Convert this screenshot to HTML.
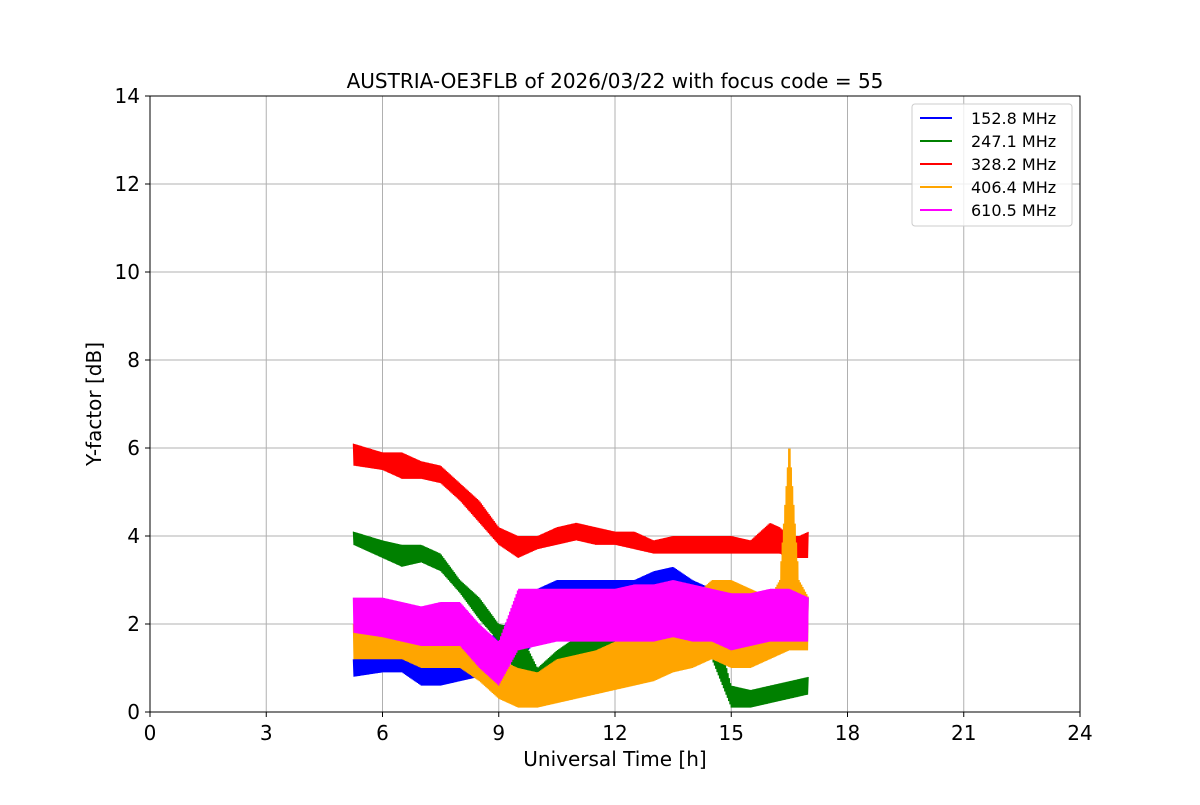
<!DOCTYPE html>
<html><head><meta charset="utf-8"><style>
body{margin:0;background:#fff;font-family:"Liberation Sans","DejaVu Sans",sans-serif}
</style></head><body>
<svg id="chart" width="1200" height="800" xmlns="http://www.w3.org/2000/svg" font-family="'DejaVu Sans','Liberation Sans',sans-serif">
<rect width="1200" height="800" fill="#fff"/>
<g id="grid"></g>
<g id="series"></g>
<rect x="150" y="96" width="930" height="616" fill="none" stroke="#000" stroke-width="1"/>
<g id="ticks"></g>
<text x="615" y="88" text-anchor="middle" font-size="20">AUSTRIA-OE3FLB of 2026/03/22 with focus code = 55</text>
<text x="615" y="766" text-anchor="middle" font-size="20">Universal Time [h]</text>
<text transform="translate(101,404) rotate(-90)" text-anchor="middle" font-size="20">Y-factor [dB]</text>
<g id="legend"></g>
</svg>
<script>
const times=[5.25,6,6.5,7,7.5,8,8.5,9,9.5,10,10.5,11,11.5,12,12.5,13,13.5,14,14.5,15,15.5,16,16.25,16.5,16.75,17];
const xTicks=[0,3,6,9,12,15,18,21,24];
const yTicks=[0,2,4,6,8,10,12,14];
const names=["152.8 MHz","247.1 MHz","328.2 MHz","406.4 MHz","610.5 MHz"];
const colors=["#0000ff","#008000","#ff0000","#ffa500","#ff00ff"];
const blueLo=[0.8,0.9,0.9,0.6,0.6,0.7,0.8,1.0,1.2,1.6,1.8,1.9,2.0,2.0,2.0,2.0,2.0,1.8,1.6,1.5,1.6,1.7,1.75,1.8,1.8,1.8];
const blueHi=[1.2,1.3,1.4,1.2,1.1,1.2,1.6,1.8,2.4,2.8,3.0,3.0,3.0,3.0,3.0,3.2,3.3,3.0,2.8,2.6,2.6,2.6,2.6,2.6,2.6,2.6];
const greenLo=[3.8,3.5,3.3,3.4,3.2,2.7,2.1,1.6,0.8,0.3,0.5,0.8,1.2,1.4,1.5,1.6,1.6,1.4,1.2,0.1,0.1,0.2,0.25,0.3,0.35,0.4];
const greenHi=[4.1,3.9,3.8,3.8,3.6,3.0,2.6,2.0,1.9,1.0,1.4,1.7,2.0,2.2,2.4,2.6,2.6,2.4,2.3,0.6,0.5,0.6,0.65,0.7,0.75,0.8];
const redLo=[5.6,5.5,5.3,5.3,5.2,4.8,4.3,3.8,3.5,3.7,3.8,3.9,3.8,3.8,3.7,3.6,3.6,3.6,3.6,3.6,3.6,3.6,3.6,3.5,3.5,3.5];
const redHi=[6.1,5.9,5.9,5.7,5.6,5.2,4.8,4.2,4.0,4.0,4.2,4.3,4.2,4.1,4.1,3.9,4.0,4.0,4.0,4.0,3.9,4.3,4.2,4.0,4.0,4.1];
const orangeLo=[1.2,1.2,1.2,1.0,1.0,1.0,0.7,0.3,0.1,0.1,0.2,0.3,0.4,0.5,0.6,0.7,0.9,1.0,1.2,1.0,1.0,1.2,1.3,1.4,1.4,1.4];
const orangeHi=[2.0,2.2,2.0,2.0,1.8,1.6,1.4,1.2,1.0,0.9,1.2,1.3,1.4,1.6,1.8,2.0,2.4,2.6,3.0,3.0,2.8,2.6,3.0,6.2,3.0,2.6];
const magentaLo=[1.8,1.7,1.6,1.5,1.5,1.5,1.0,0.6,1.4,1.5,1.6,1.6,1.6,1.6,1.6,1.6,1.7,1.6,1.6,1.4,1.5,1.6,1.6,1.6,1.6,1.6];
const magentaHi=[2.6,2.6,2.5,2.4,2.5,2.5,2.0,1.6,2.8,2.8,2.8,2.8,2.8,2.8,2.9,2.9,3.0,2.9,2.8,2.7,2.7,2.8,2.8,2.8,2.7,2.6];
const los=[blueLo,greenLo,redLo,orangeLo,magentaLo];
const his=[blueHi,greenHi,redHi,orangeHi,magentaHi];

const X=v=>150+v/24*930, Y=v=>712-v/14*616;
const NS="http://www.w3.org/2000/svg";
function mk(tag,parent){const e=document.createElementNS(NS,tag);parent.appendChild(e);return e;}
const grid=document.getElementById('grid'),ticks=document.getElementById('ticks');
xTicks.forEach(t=>{
 const l=mk('line',grid);l.setAttribute('x1',X(t));l.setAttribute('x2',X(t));l.setAttribute('y1',96);l.setAttribute('y2',712);l.setAttribute('stroke','#b0b0b0');
 
 
 const tk=mk('line',ticks);tk.setAttribute('x1',X(t));tk.setAttribute('x2',X(t));tk.setAttribute('y1',712);tk.setAttribute('y2',717);tk.setAttribute('stroke','#000');
 
 
 const tx=mk('text',ticks);tx.setAttribute('x',X(t));tx.setAttribute('y',740);tx.setAttribute('text-anchor','middle');tx.setAttribute('font-size','20');tx.textContent=t;
 
 
});
yTicks.forEach(t=>{
 const l=mk('line',grid);l.setAttribute('x1',150);l.setAttribute('x2',1080);l.setAttribute('y1',Y(t));l.setAttribute('y2',Y(t));l.setAttribute('stroke','#b0b0b0');
 
 
 const tk=mk('line',ticks);tk.setAttribute('x1',145);tk.setAttribute('x2',150);tk.setAttribute('y1',Y(t));tk.setAttribute('y2',Y(t));tk.setAttribute('stroke','#000');
 
 
 const tx=mk('text',ticks);tx.setAttribute('x',140);tx.setAttribute('y',Y(t)+7);tx.setAttribute('text-anchor','end');tx.setAttribute('font-size','20');tx.textContent=t;
 
 
});
const sg=document.getElementById('series');
names.forEach((n,k)=>{
 const lo=los[k],hi=his[k];let pts=[];let flip=0;
 for(let i=0;i<times.length-1;i++){
  const steps=Math.max(2,Math.round((times[i+1]-times[i])*60));
  for(let s=0;s<steps;s++){
   const f=s/steps,t=times[i]+f*(times[i+1]-times[i]);
   const v=flip?lo[i]+f*(lo[i+1]-lo[i]):hi[i]+f*(hi[i+1]-hi[i]);
   flip=1-flip;pts.push(X(t).toFixed(2)+','+Y(v).toFixed(2));
  }
 }
 const p=mk('polyline',sg);p.setAttribute('points',pts.join(' '));p.setAttribute('fill','none');p.setAttribute('stroke',colors[k]);p.setAttribute('stroke-width','1.3');
 
 
});
const lg=document.getElementById('legend');
const box=mk('rect',lg);box.setAttribute('x',912);box.setAttribute('y',104);box.setAttribute('width',160);box.setAttribute('height',122);box.setAttribute('rx',3);box.setAttribute('fill','#fff');box.setAttribute('fill-opacity','0.8');box.setAttribute('stroke','#ccc');


names.forEach((n,k)=>{
 const y=118+k*23;
 const l=mk('line',lg);l.setAttribute('x1',920);l.setAttribute('x2',952);l.setAttribute('y1',y);l.setAttribute('y2',y);l.setAttribute('stroke',colors[k]);l.setAttribute('stroke-width','2');
 
 
 const t=mk('text',lg);t.setAttribute('x',971);t.setAttribute('y',y+6);t.setAttribute('font-size','16');t.textContent=n;
 
 
});
</script>
</body></html>
